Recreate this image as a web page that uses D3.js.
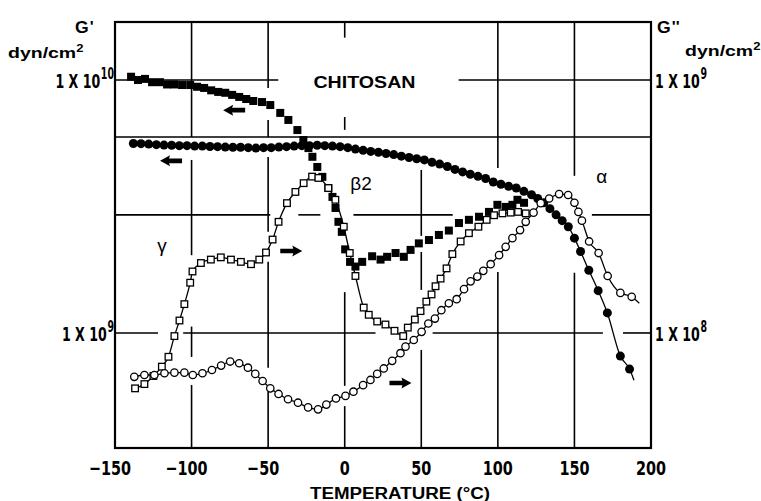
<!DOCTYPE html>
<html><head><meta charset="utf-8">
<script src="https://cdn.jsdelivr.net/npm/d3@7"></script>
<style>
body{margin:0;background:#fff;}
svg{display:block;background:#fff;}
.num{font-family:"Liberation Sans Narrow","Arial Narrow","DejaVu Sans Condensed","Liberation Sans",sans-serif;font-weight:bold;fill:#000;}
.lab{font-family:"Liberation Sans",Arial,Helvetica,sans-serif;font-weight:bold;fill:#000;}
.greek{font-family:"Liberation Sans",Arial,"DejaVu Sans",sans-serif;fill:#000;}
</style></head><body>
<svg id="chart" width="761" height="501"></svg>
<script>
// ---------------- DATA ----------------
const xTicks = [-150, -100, -50, 0, 50, 100, 150, 200];
const xTickLabels = ["\u2212150", "\u2212100", "\u221250", "0", "50", "100", "150", "200"];
const leftTickValues = [1e10, 1e9];
const leftTickExp = ["10", "9"];
const rightTickValues = [1e9, 1e8];
const rightTickExp = ["9", "8"];
const hGridValues = [1e10, 5.95e9, 2.93e9, 1e9]; // on G' axis

// G' (dyn/cm2, left axis) — filled squares  [T(°C), G']
const gPrimeSquares = [
 [-139.5,1.03e10],[-135,1.00e10],[-130.4,1.01e10],[-125.8,9.8e9],[-120.6,9.8e9],[-116,9.6e9],[-111.4,9.6e9],
 [-106.2,9.55e9],[-100.9,9.55e9],[-96.4,9.4e9],[-91.8,9.3e9],[-87.2,9.1e9],[-82.6,8.97e9],[-78,8.9e9],
 [-73.5,8.73e9],[-68.9,8.57e9],[-64.3,8.41e9],[-59.7,8.26e9],[-54,8.18e9],[-48.6,7.96e9],[-42.1,7.41e9],
 [-36.8,6.95e9],[-30.9,6.34e9],[-27,5.79e9],[-23.7,5.38e9],[-21.1,4.97e9],[-17.9,4.53e9],[-14.6,4.14e9],
 [-10.7,3.74e9],[-8,3.45e9],[-6,3.12e9],[-4.1,2.75e9],[-1.9,2.51e9],[0.3,2.14e9],[3.5,1.91e9],[7,1.83e9],
 [11.4,1.91e9],[17.9,2.01e9],[23.4,1.95e9],[27.7,2.0e9],[33.2,2.07e9],[38.6,2.0e9],[43,2.13e9],[48.4,2.26e9],
 [55,2.33e9],[61.5,2.44e9],[68,2.54e9],[74.6,2.72e9],[81.1,2.80e9],[87.7,2.88e9],[94.2,3.01e9],[99.7,3.21e9],
 [105.1,3.15e9],[109.5,3.21e9],[112.8,3.36e9],[117.1,3.27e9]
];

// G' (left axis) — filled circles
const gPrimeCircles = [
 [-138,5.61e9],[-133,5.6e9],[-128,5.58e9],[-123,5.55e9],[-118,5.53e9],[-113,5.52e9],[-108,5.5e9],[-103,5.5e9],
 [-98,5.48e9],[-93,5.48e9],[-88,5.46e9],[-83,5.45e9],[-78,5.43e9],[-73,5.42e9],[-68,5.42e9],[-63,5.40e9],
 [-58,5.38e9],[-53,5.40e9],[-48,5.40e9],[-43,5.43e9],[-38,5.45e9],[-33,5.48e9],[-28,5.50e9],[-23,5.50e9],
 [-18,5.52e9],[-13,5.50e9],[-8,5.48e9],[-3,5.45e9],[2,5.4e9],[7,5.33e9],[12,5.27e9],[17,5.22e9],[22,5.18e9],
 [27,5.12e9],[32,5.07e9],[37,5.0e9],[42,4.94e9],[47,4.88e9],[52,4.83e9],[57,4.73e9],[62,4.65e9],[67,4.55e9],
 [72,4.43e9],[77,4.33e9],[82,4.24e9],[87,4.16e9],[92,4.08e9],[97,3.95e9],[102,3.87e9],[107,3.80e9],[112,3.74e9],
 [117,3.63e9],[122,3.52e9],[126,3.40e9],[130,3.27e9],[134,3.10e9],[138,2.93e9],[142,2.78e9],[146,2.63e9],
 [150,2.37e9],[154,2.1e9],[159.4,1.77e9],[165.5,1.47e9],[171.5,1.20e9],[180,8.1e8],[186,7.2e8]
];

// G'' (dyn/cm2, right axis) — open squares
const gDoublePrimeSquares = [
 [-136.9,6.04e7],[-130.8,6.28e7],[-124.9,6.76e7],[-119.4,7.36e7],[-115.1,8.05e7],[-111.2,9.72e7],[-107.9,1.12e8],
 [-104.7,1.30e8],[-100.9,1.58e8],[-99.4,1.75e8],[-93.9,1.89e8],[-87.4,1.95e8],[-80.9,1.99e8],[-74.3,1.95e8],
 [-67.8,1.91e8],[-61.2,1.87e8],[-55.8,1.95e8],[-51.4,2.08e8],[-47.1,2.34e8],[-43.2,2.75e8],[-37.7,3.26e8],
 [-32.2,3.61e8],[-26.8,3.91e8],[-21.3,4.15e8],[-17.2,4.10e8],[-10.7,3.74e8],[-6.1,3.36e8],[-0.6,2.63e8],
 [3.3,2.07e8],[7.0,1.68e8],[12.4,1.26e8],[15.7,1.18e8],[21.2,1.11e8],[26.6,1.08e8],[32.5,1.02e8],[38.2,9.72e7],
 [41.2,1.05e8],[45.8,1.13e8],[49.5,1.22e8],[53.3,1.33e8],[56.7,1.42e8],[59.3,1.53e8],[62.6,1.64e8],[66.5,1.80e8],
 [70.3,2.05e8],[75.7,2.30e8],[81.1,2.48e8],[87.3,2.63e8],[92.7,2.80e8],[97.5,2.92e8],[103,2.97e8],[108.4,2.99e8],
 [113.2,3.01e8],[118.2,2.97e8]
];

// G'' (right axis) — open circles
const gDoublePrimeCircles = [
 [-137.4,6.71e7],[-130.8,6.82e7],[-124.3,6.82e7],[-117.7,6.93e7],[-111.2,6.97e7],[-104.7,6.97e7],[-99.2,6.82e7],
 [-92.9,6.93e7],[-86.7,7.14e7],[-80.7,7.43e7],[-74.8,7.71e7],[-68.9,7.59e7],[-63.2,7.29e7],[-58.4,6.89e7],
 [-53.6,6.46e7],[-48.6,6.04e7],[-43.2,5.74e7],[-37.0,5.47e7],[-30.5,5.30e7],[-23.9,5.08e7],[-17.4,4.99e7],
 [-12.0,5.21e7],[-5.7,5.51e7],[0.5,5.64e7],[5.7,5.86e7],[12.0,6.22e7],[16.8,6.52e7],[21.2,6.89e7],[25.5,7.24e7],
 [31.0,7.76e7],[36.4,8.32e7],[39.7,8.83e7],[45.1,9.38e7],[50.2,1.01e8],[54.6,1.09e8],[58.9,1.14e8],[63.1,1.23e8],
 [68.0,1.31e8],[73.1,1.36e8],[77.9,1.49e8],[82.2,1.60e8],[86.6,1.67e8],[90.5,1.76e8],[95.3,1.87e8],[100.8,2.03e8],
 [105.1,2.19e8],[109.5,2.37e8],[114.5,2.55e8],[118.2,2.75e8],[123.3,2.99e8],[128.0,3.26e8],[133.5,3.40e8],
 [140.0,3.54e8],[145.9,3.51e8],[150.0,3.27e8],[152.6,3.01e8],[154.9,2.78e8],[159.6,2.30e8],[165.8,2.07e8],
 [171.7,1.68e8],[180.0,1.44e8],[187.4,1.39e8]
];

// ---------------- LAYOUT ----------------
const plot = {left: 115, right: 651, top: 22, bottom: 448};
const svg = d3.select("#chart");

const x = d3.scaleLinear().domain([-150, 200]).range([plot.left, plot.right]);
const yL = d3.scaleLog().domain([3.51e8, 1.695e10]).range([plot.bottom, plot.top]);
const yR = d3.scaleLog().domain([3.51e7, 1.695e9]).range([plot.bottom, plot.top]);
const yTop = yL.domain()[1], yBot = yL.domain()[0];
const tMin = -150, tMax = 200;

// broken grid as in the original, expressed in data units
const vGridSpans = [
  {t: -100, spans: [[yTop, 5.95e9], [4.83e9, 2.03e9], [1.06e9, 8.04e8], [6.23e8, yBot]]},
  {t: -50,  spans: [[yTop, 9.3e9], [6.95e9, 5.95e9], [4.96e9, 2.51e9], [1.91e9, 7.28e8], [5.85e8, yBot]]},
  {t: 0,    spans: [[yTop, 1.47e10], [7.14e9, 6.35e9], [1.45e9, 6.18e8], [5.14e8, yBot]]},
  {t: 50,   spans: [[4.41e9, 2.42e9], [2.09e9, 1.48e9], [8.57e8, yBot]]},
  {t: 100,  spans: [[yTop, 4.49e9], [1.74e9, yBot]]},
  {t: 150,  spans: [[yTop, 4.18e9], [1.73e9, yBot]]}
];
const hGridSpans = [
  {v: hGridValues[0], spans: [[tMin, -43.4], [74.4, tMax]]},
  {v: hGridValues[1], spans: [[tMin, tMax]]},
  {v: hGridValues[2], spans: [[tMin, -48.6], [-30.3, -15.9], [5.7, 70.5], [161.4, tMax]]},
  {v: hGridValues[3], spans: [[tMin, -121.9], [-105.5, 20.1], [57.4, 168.6], [181.7, tMax]]}
];

const grid = svg.append("g").attr("stroke", "#000").attr("stroke-width", 1.6).attr("fill", "none");
vGridSpans.forEach(g => g.spans.forEach(s => {
  grid.append("line").attr("x1", x(g.t)).attr("x2", x(g.t)).attr("y1", yL(s[0])).attr("y2", yL(s[1]));
}));
hGridSpans.forEach(g => g.spans.forEach(s => {
  grid.append("line").attr("y1", yL(g.v)).attr("y2", yL(g.v)).attr("x1", x(s[0])).attr("x2", x(s[1]));
}));

// frame
svg.append("rect").attr("x", plot.left).attr("y", plot.top)
  .attr("width", plot.right - plot.left).attr("height", plot.bottom - plot.top)
  .attr("fill", "none").attr("stroke", "#000").attr("stroke-width", 2.2);

// x tick labels (condensed)
xTicks.forEach((t, i) => {
  svg.append("text").attr("class", "num")
    .attr("transform", `translate(${x(t) + (t < 0 ? -5 : 0)},475) scale(0.8,1)`)
    .attr("text-anchor", "middle").attr("font-size", 20)
    .text(xTickLabels[i]);
});

// y tick labels (1 X 10^n), condensed
function sciLabel(xPos, yPos, exp, anchor) {
  const t = svg.append("text").attr("class", "num")
    .attr("transform", `translate(${xPos},${yPos}) scale(0.7,1)`)
    .attr("text-anchor", anchor).attr("font-size", 20);
  t.append("tspan").text("1 X 10");
  t.append("tspan").attr("font-size", 15).attr("dy", -9).attr("dx", 1).text(exp);
  return t;
}
leftTickValues.forEach((v, i) => sciLabel(plot.left - 1, yL(v) + 8, leftTickExp[i], "end"));
rightTickValues.forEach((v, i) => sciLabel(plot.right + 4, yR(v) + 8, rightTickExp[i], "start"));

// axis titles
function gLabel(xPos, primes) {
  const t = svg.append("text").attr("class", "lab").attr("transform", `translate(${xPos},33) scale(1.1,1)`)
    .attr("font-size", 16);
  t.append("tspan").text("G");
  t.append("tspan").attr("font-size", 15).attr("dy", -2).attr("dx", 1).text(primes);
}
gLabel(75, "'");
gLabel(657, "''");
function unitLabel(xPos, yPos) {
  const t = svg.append("text").attr("class", "lab").attr("transform", `translate(${xPos},${yPos}) scale(1.3,1)`)
    .attr("font-size", 15);
  t.append("tspan").text("dyn/cm");
  t.append("tspan").attr("font-size", 10).attr("dy", -6).text("2");
}
unitLabel(8, 58);
unitLabel(685, 56);

svg.append("text").attr("class", "lab").attr("x", 400).attr("y", 499).attr("text-anchor", "middle")
  .attr("font-size", 16).attr("textLength", 180).attr("lengthAdjust", "spacingAndGlyphs")
  .text("TEMPERATURE (\u00B0C)");

// annotations (data coordinates)
svg.append("text").attr("class", "lab").attr("x", x(12.9)).attr("y", yL(9.3e9)).attr("text-anchor", "middle")
  .attr("font-size", 16).attr("textLength", 102).attr("lengthAdjust", "spacingAndGlyphs").text("CHITOSAN");
const b2 = svg.append("text").attr("class", "greek").attr("x", x(3.6)).attr("y", yL(3.67e9)).attr("font-size", 19);
b2.append("tspan").text("\u03B2");
b2.append("tspan").text("2");
svg.append("text").attr("class", "greek").attr("x", x(167.9)).attr("y", yL(3.92e9)).attr("text-anchor", "middle")
  .attr("font-size", 19).text("\u03B1");
svg.append("text").attr("class", "greek").attr("x", x(-119.3)).attr("y", yL(2.09e9)).attr("text-anchor", "middle")
  .attr("font-size", 19).text("\u03B3");

// arrows
const arrowPath = "M-11,-2.3 L2,-2.3 L1,-5.5 L11,0 L1,5.5 L2,2.3 L-11,2.3 Z";
const arrows = [
  {t: -72.2, v: 7.6e9, dir: -1},
  {t: -113.4, v: 4.79e9, dir: -1},
  {t: -34.9, v: 2.11e9, dir: 1},
  {t: 36.4, v: 6.34e8, dir: 1}
];
arrows.forEach(a => {
  svg.append("path").attr("d", arrowPath).attr("fill", "#000")
    .attr("transform", `translate(${x(a.t)},${yL(a.v)}) scale(${a.dir},1)`);
});

// lines (with a short tail past the last point, as in the original fitted curves)
function pts(data, ys, tail) {
  const p = data.map(d => [x(d[0]), ys(d[1])]);
  if (tail) {
    const a = p[p.length - 3], b = p[p.length - 1];
    const dx = b[0] - a[0], dy = b[1] - a[1], L = Math.hypot(dx, dy);
    p.push([b[0] + dx / L * tail, b[1] + dy / L * tail]);
  }
  return p;
}
const lineGen = d3.line().curve(d3.curveMonotoneX);
const lines = svg.append("g").attr("fill", "none").attr("stroke", "#000").attr("stroke-width", 1.3);
lines.append("path").attr("d", lineGen(pts(gPrimeCircles, yL, 12)));
lines.append("path").attr("d", lineGen(pts(gDoublePrimeSquares, yR, 0)));
lines.append("path").attr("d", lineGen(pts(gDoublePrimeCircles, yR, 10)));

// markers
svg.append("g").selectAll("circle").data(gPrimeCircles).join("circle")
  .attr("cx", d => x(d[0])).attr("cy", d => yL(d[1])).attr("r", 4.5).attr("fill", "#000");
svg.append("g").selectAll("rect").data(gPrimeSquares).join("rect")
  .attr("x", d => x(d[0]) - 4).attr("y", d => yL(d[1]) - 4).attr("width", 8).attr("height", 8).attr("fill", "#000");
svg.append("g").selectAll("rect").data(gDoublePrimeSquares).join("rect")
  .attr("x", d => x(d[0]) - 3.3).attr("y", d => yR(d[1]) - 3.3).attr("width", 6.6).attr("height", 6.6)
  .attr("fill", "#fff").attr("stroke", "#000").attr("stroke-width", 1.3);
svg.append("g").selectAll("circle").data(gDoublePrimeCircles).join("circle")
  .attr("cx", d => x(d[0])).attr("cy", d => yR(d[1])).attr("r", 3.7)
  .attr("fill", "#fff").attr("stroke", "#000").attr("stroke-width", 1.3);
</script>
</body></html>
